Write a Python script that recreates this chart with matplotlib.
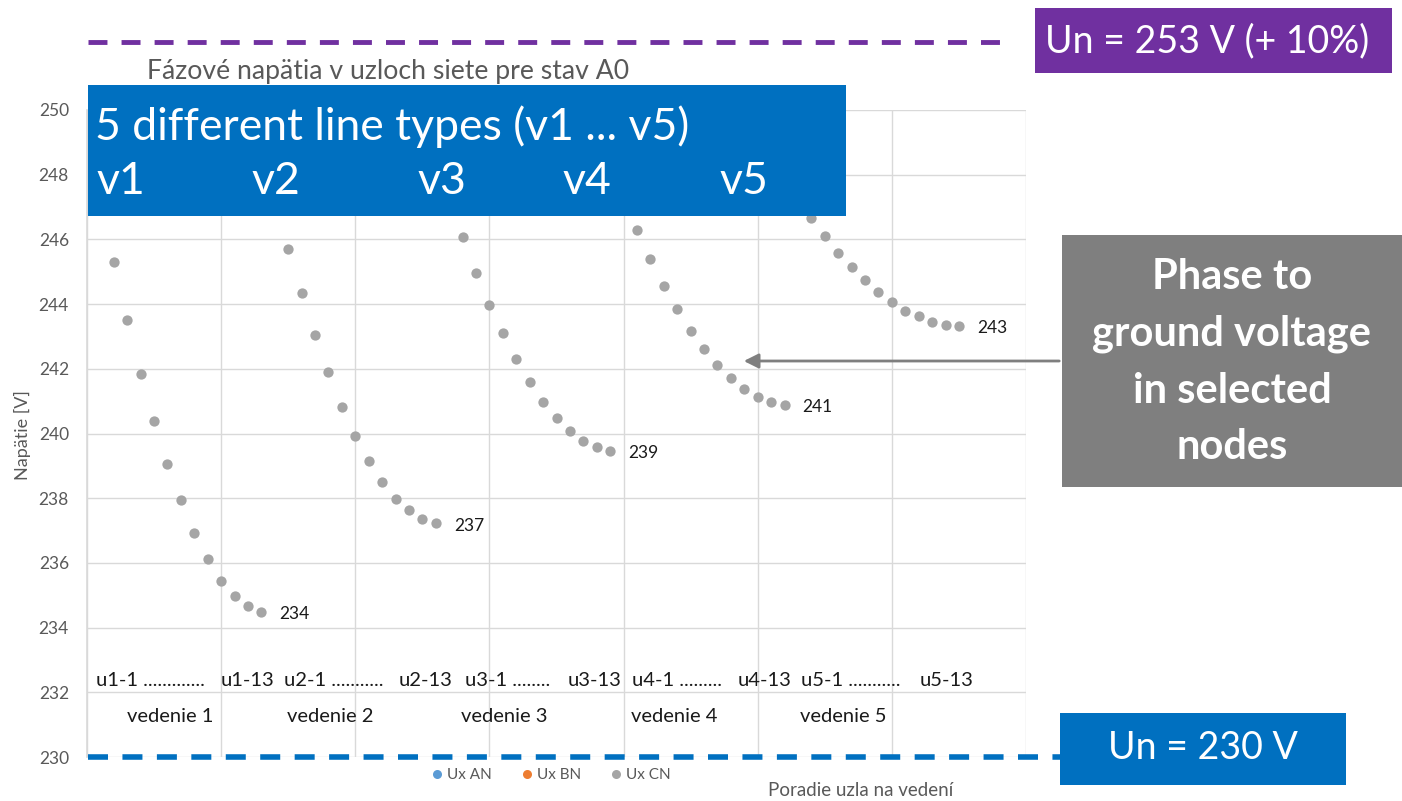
import matplotlib
matplotlib.use("Agg")
import matplotlib.pyplot as plt
from matplotlib.patches import Rectangle, FancyArrowPatch
from matplotlib.lines import Line2D

# ---------------- data ----------------
nodes_per_line = 13
v1 = [247.3, 245.31, 243.50, 241.85, 240.39, 239.05, 237.94, 236.91, 236.12, 235.45, 234.97, 234.66, 234.47]
v2 = [247.1, 245.71, 244.33, 243.04, 241.89, 240.83, 239.93, 239.14, 238.51, 237.98, 237.63, 237.35, 237.22]
v3 = [247.2, 246.08, 244.97, 243.98, 243.10, 242.30, 241.58, 240.96, 240.48, 240.08, 239.78, 239.58, 239.45]
v4 = [247.2, 246.29, 245.40, 244.56, 243.86, 243.18, 242.60, 242.13, 241.72, 241.37, 241.14, 240.97, 240.87]
v5 = [247.25, 246.65, 246.11, 245.59, 245.14, 244.74, 244.38, 244.07, 243.80, 243.63, 243.46, 243.35, 243.32]
series_cn = [v1, v2, v3, v4, v5]

node_labels = ["u1-1 .............", "u1-13", "u2-1 ...........", "u2-13",
               "u3-1 ........", "u3-13", "u4-1 .........", "u4-13",
               "u5-1 ...........", "u5-13"]
line_names = ["vedenie 1", "vedenie 2", "vedenie 3", "vedenie 4", "vedenie 5"]
type_labels = ["v1", "v2", "v3", "v4", "v5"]
legend_names = ["Ux AN", "Ux BN", "Ux CN"]
yticks = list(range(230, 251, 2))

title = "Fázové napätia v uzloch siete pre stav A0"
ylabel = "Napätie [V]"
xlabel = "Poradie uzla na vedení"

# ---------------- layout ----------------
W, H = 1402, 801
FONT = "Lato"
plt.rcParams["font.family"] = [FONT, "DejaVu Sans"]

def fx(px):
    return px / W

def fy(py):
    return 1 - py / H

fig = plt.figure(figsize=(W / 100, H / 100), dpi=100)
ax_l, ax_r, ax_t, ax_b = 87, 1026, 110, 757
ax = fig.add_axes([fx(ax_l), fy(ax_b), (ax_r - ax_l) / W, (ax_b - ax_t) / H])

ax.set_xlim(0, 70)
ax.set_ylim(230, 250)
ax.set_xticks(range(0, 71, 10))
ax.set_xticklabels([])
ax.set_yticks(yticks)
ax.set_yticklabels([str(t) for t in yticks], color="#595959", fontsize=12.5)
ax.tick_params(axis="both", length=0, pad=13)
ax.grid(True, color="#D9D9D9", linewidth=1.0)
ax.set_axisbelow(True)
for s in ["top", "right", "bottom"]:
    ax.spines[s].set_visible(False)
ax.spines["left"].set_color("#D9D9D9")
ax.spines["left"].set_linewidth(1.2)

grey = "#A5A5A5"
for k, vals in enumerate(series_cn):
    xs = [k * nodes_per_line + i + 1 for i in range(len(vals))]
    ax.scatter(xs, vals, s=55, color=grey, zorder=3, linewidths=0)
    ax.annotate(f"{round(vals[-1])}", (xs[-1], vals[-1]), xytext=(13, -1.5),
                textcoords="offset points", ha="left", va="center",
                fontsize=12.5, color="#1a1a1a")

# empty legend handles for AN / BN and the CN series
leg_colors = ["#5B9BD5", "#ED7D31", grey]
handles = [Line2D([], [], marker="o", linestyle="none", markersize=6.5,
                  markerfacecolor=c, markeredgewidth=0) for c in leg_colors]
fig.legend(handles, legend_names, loc="center", bbox_to_anchor=(fx(551), fy(775)),
           ncol=3, frameon=False, fontsize=11, handletextpad=0.25,
           columnspacing=1.9, labelcolor="#595959", handlelength=0.8)

# node labels and line names inside the chart
node_x = [0.65, 9.95, 14.65, 23.2, 28.2, 35.8, 40.6, 48.5, 53.2, 62.1]
for lab, xv in zip(node_labels, node_x):
    ax.text(xv, 232.35, lab, fontsize=14.5, color="#1a1a1a", ha="left", va="center")
name_x = [6.2, 18.1, 31.1, 43.8, 56.4]
for lab, xv in zip(line_names, name_x):
    ax.text(xv, 231.24, lab, fontsize=14.5, color="#1a1a1a", ha="center", va="center")

# title and axis labels
fig.text(fx(147), fy(72), title, fontsize=19.2, color="#595959", ha="left", va="center")
fig.text(fx(22), fy(435), ylabel, fontsize=13, color="#595959", rotation=90,
         ha="center", va="center")
fig.text(fx(861), fy(791), xlabel, fontsize=13.5, color="#595959", ha="center", va="center")

# ---------------- annotations ----------------
def rect(x0, y0, x1, y1, color, z=10):
    fig.add_artist(Rectangle((fx(x0), fy(y1)), (x1 - x0) / W, (y1 - y0) / H,
                             transform=fig.transFigure, facecolor=color,
                             edgecolor="none", zorder=z))

def fline(x0, x1, y, color, lw, dashes):
    fig.add_artist(Line2D([fx(x0), fx(x1)], [fy(y), fy(y)], transform=fig.transFigure,
                          color=color, linewidth=lw, dashes=dashes, zorder=9,
                          solid_capstyle="butt", dash_capstyle="butt"))

blue = "#0070C0"
purple = "#7030A0"

# top purple dashed line and box
fline(88, 1005, 42, purple, 3.5, (3.9, 2.9))
rect(1035, 8, 1392, 73, purple)
fig.text(fx(1207), fy(41), "Un = 253 V (+ 10%)", fontsize=27, color="white",
         ha="center", va="center", zorder=11)

# bottom blue dashed line and box
fline(88, 1060, 757, blue, 4.0, (3.6, 2.6))
rect(1060, 713, 1346, 785, blue)
fig.text(fx(1203), fy(748), "Un = 230 V", fontsize=27, color="white",
         ha="center", va="center", zorder=11)

# blue box with line types
rect(88, 85, 846, 216, blue)
fig.text(fx(95), fy(127), "5 different line types (v1 ... v5)", fontsize=32,
         color="white", ha="left", va="center", zorder=11)
type_px = [96, 251, 417, 562, 719]
for lab, px in zip(type_labels, type_px):
    fig.text(fx(px), fy(182), lab, fontsize=32, color="white", ha="left",
             va="center", zorder=11)

# grey box with arrow
rect(1062, 235, 1402, 487, "#7F7F7F")
fig.text(fx(1232), fy(362), "Phase to\nground voltage\nin selected\nnodes",
         fontsize=30, fontweight="bold", color="white", ha="center", va="center",
         linespacing=1.6, zorder=11)
fig.add_artist(FancyArrowPatch((fx(1062), fy(361)), (fx(741), fy(361)),
                               transform=fig.transFigure, arrowstyle="-|>",
                               mutation_scale=22, color="#7F7F7F", linewidth=2.0,
                               zorder=9))

fig.savefig("out.png", dpi=100)
